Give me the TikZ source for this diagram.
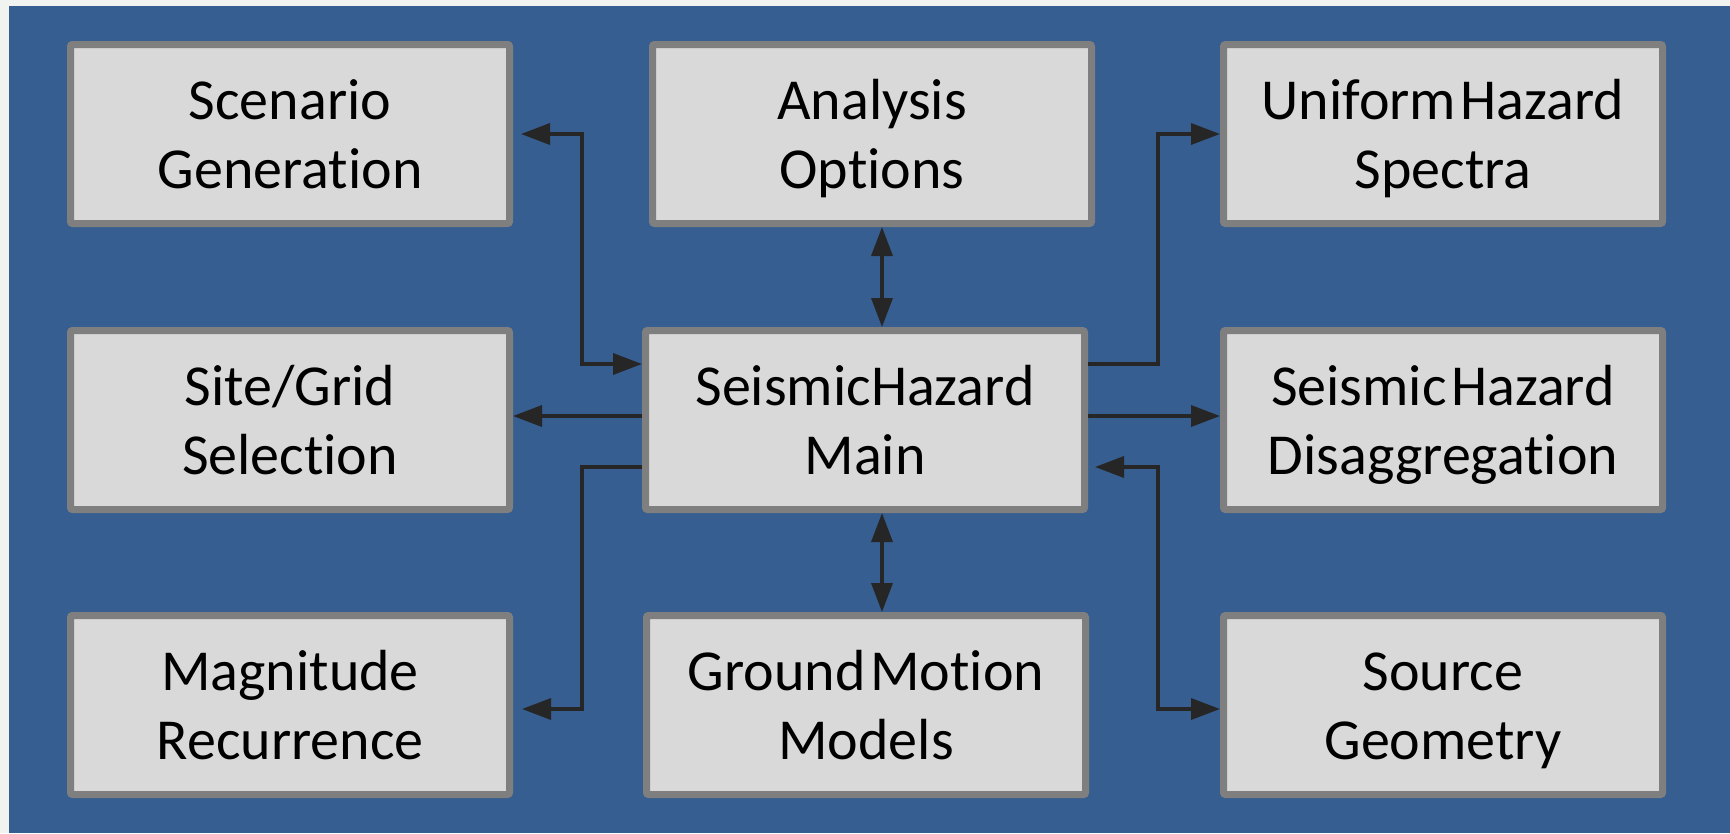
\documentclass[tikz,border=0pt]{standalone}
\usepackage{fontspec}
\setmainfont{Carlito}[Ligatures=NoCommon,WordSpace=0.35]
\usepackage{tikz}
\usetikzlibrary{arrows.meta}

\definecolor{pagegray}{HTML}{F1F3F1}
\definecolor{panelblue}{HTML}{365E90}
\definecolor{boxfill}{HTML}{D9D9D9}
\definecolor{boxline}{HTML}{7F7F7F}
\definecolor{wire}{HTML}{262626}

\tikzset{
    module/.style={draw=boxline,fill=boxfill,line width=7pt,rounded corners=2pt,
        minimum width=439pt,minimum height=179pt,inner sep=0pt,align=center,
        text height=114pt,text depth=6pt,font=\fontsize{58}{69}\selectfont},
    link/.style={color=wire,line width=3.5pt,>={Triangle[length=29pt,width=21pt]}},
}

\begin{document}
\begin{tikzpicture}[x=1pt,y=-1pt]
    \fill[pagegray] (0,0) rectangle (1730,833);
    \fill[panelblue] (9,6) rectangle (1730,833);

    \node(scen)[module] at (290,134) {Scenario\\Generation};
    \node(anal)[module] at (872,134) {Analysis\\Options};
    \node(unif)[module] at (1443,134) {Uniform Hazard\\Spectra};
    \node(site)[module] at (290,420) {Site/Grid\\Selection};
    \node(main)[module] at (865,420) {SeismicHazard\\Main};
    \node(disag)[module] at (1443,420) {Seismic Hazard\\Disaggregation};
    \node(magn)[module] at (290,705) {Magnitude\\Recurrence};
    \node(grnd)[module] at (866,705) {Ground Motion\\Models};
    \node(srce)[module] at (1443,705) {Source\\Geometry};

    \draw[link,<->] ([xshift=8]scen.east) -- ++(61,0) |- ([yshift=56]main.west);
    \draw[link,->] ([yshift=56]main.east) -- ++(70,0) |- (unif.west);
    \draw[link,<->] ([xshift=10]anal.south) -- ([xshift=17]main.north);
    \draw[link,->] ([yshift=4]main.west) -- ([yshift=4]site.east);
    \draw[link,->] ([yshift=4]main.east) -- ([yshift=4]disag.west);
    \draw[link,->] ([yshift=-47]main.west) -- ++(-60,0) |- ([xshift=9,yshift=-4]magn.east);
    \draw[link,<->] ([xshift=17]main.south) -- ([xshift=16]grnd.north);
    \draw[link,<->] ([xshift=7,yshift=-47]main.east) -- ++(63,0) |- ([yshift=-4]srce.west);
\end{tikzpicture}
\end{document}
